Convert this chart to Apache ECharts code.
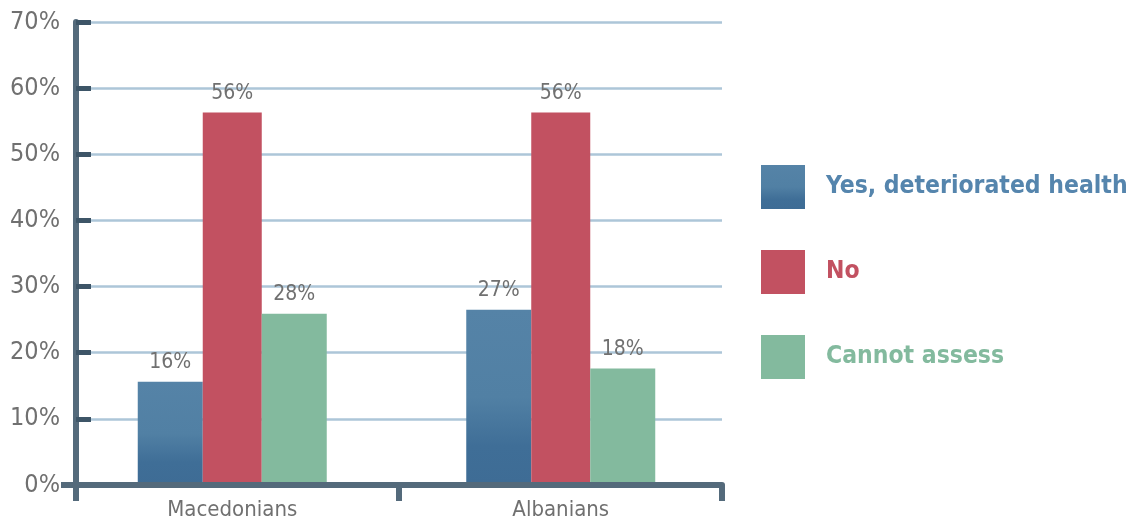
<!DOCTYPE html>
<html>
<head>
<meta charset="utf-8">
<script src="https://cdn.jsdelivr.net/npm/echarts@6/dist/echarts.min.js"></script>
<style>
html,body{margin:0;padding:0;background:#fff;}
#c{width:1138px;height:523px;}
</style>
</head>
<body>
<div id="c"></div>
<script>
const categories = ['Macedonians', 'Albanians'];
const seriesNames = ['Yes, deteriorated health', 'No', 'Cannot assess'];
const yesValues = [15.6, 26.5];
const noValues = [56.3, 56.3];
const cannotValues = [25.9, 17.6];
const yesLabels = ['16%', '27%'];
const noLabels = ['56%', '56%'];
const cannotLabels = ['28%', '18%'];
const yTicks = [0, 10, 20, 30, 40, 50, 60, 70];

const FONT = "'DejaVu Sans Condensed', 'DejaVu Sans', sans-serif";
const blueGrad = new echarts.graphic.LinearGradient(0, 0, 0, 1, [
  {offset: 0, color: '#5583a7'},
  {offset: 0.5, color: '#5180a4'},
  {offset: 0.78, color: '#3f6e97'},
  {offset: 1, color: '#3e6c95'}
]);
const colors = [blueGrad, '#c25161', '#83ba9e'];
const textColors = ['#5585ad', '#c25161', '#83ba9e'];
const allValues = [yesValues, noValues, cannotValues];
const allLabels = [yesLabels, noLabels, cannotLabels];
const widths = [65, 59, 65];
const yMin = yTicks[0], yMax = yTicks[yTicks.length - 1];

const chart = echarts.init(document.getElementById('c'), null, {renderer: 'canvas'});

const series = seriesNames.map((name, i) => ({
  name: name,
  type: 'bar',
  xAxisIndex: 1,
  yAxisIndex: 1,
  data: allValues[i],
  barWidth: widths[i],
  barGap: '0%',
  itemStyle: {color: colors[i]},
  label: {
    show: true,
    position: 'top',
    distance: 9,
    color: '#707070',
    fontFamily: FONT,
    fontSize: 21,
    formatter: p => allLabels[i][p.dataIndex]
  },
  emphasis: {disabled: true}
}));

chart.setOption({
  animation: false,
  backgroundColor: '#ffffff',
  grid: [
    {left: 76, right: 416, top: 22, bottom: 38, containLabel: false},
    {left: 68, right: 413, top: 22, bottom: 38, containLabel: false}
  ],
  legend: {
    orient: 'vertical',
    left: 756,
    top: 160,
    itemWidth: 44,
    itemHeight: 44,
    itemGap: 41,
    icon: 'rect',
    selectedMode: false,
    textStyle: {fontFamily: FONT, fontSize: 24.5, fontWeight: 'bold', padding: [0, 0, 0, 16]},
    data: seriesNames.map((n, i) => ({name: n, textStyle: {color: textColors[i]}}))
  },
  xAxis: [{
    type: 'category',
    gridIndex: 0,
    data: categories,
    axisLine: {show: true, lineStyle: {color: '#546a7b', width: 6}},
    axisTick: {show: true, length: 16, lineStyle: {color: '#546a7b', width: 6}},
    axisLabel: {show: false},
    splitLine: {show: false},
    z: 5
  }, {
    type: 'category',
    gridIndex: 1,
    data: categories,
    axisLine: {show: false},
    axisTick: {show: false},
    axisLabel: {color: '#707070', fontFamily: FONT, fontSize: 22, margin: 14},
    splitLine: {show: false}
  }],
  yAxis: [{
    type: 'value',
    gridIndex: 0,
    min: yMin,
    max: yMax,
    interval: 10,
    axisLine: {show: true, lineStyle: {color: '#546a7b', width: 6}},
    axisTick: {show: true, inside: true, length: 15, lineStyle: {color: '#3d5567', width: 5}},
    axisLabel: {color: '#707070', fontFamily: FONT, fontSize: 25, margin: 16, formatter: v => v + '%'},
    splitLine: {show: true, lineStyle: {color: '#adc6d8', width: 2.5}},
    z: 1
  }, {
    type: 'value',
    gridIndex: 1,
    min: yMin,
    max: yMax,
    interval: 10,
    show: false,
    splitLine: {show: false}
  }],
  graphic: [{
    type: 'line',
    shape: {x1: 61, y1: 485, x2: 76, y2: 485},
    style: {stroke: '#546a7b', lineWidth: 6},
    z: 10
  }],
  series: series
});
</script>
</body>
</html>
